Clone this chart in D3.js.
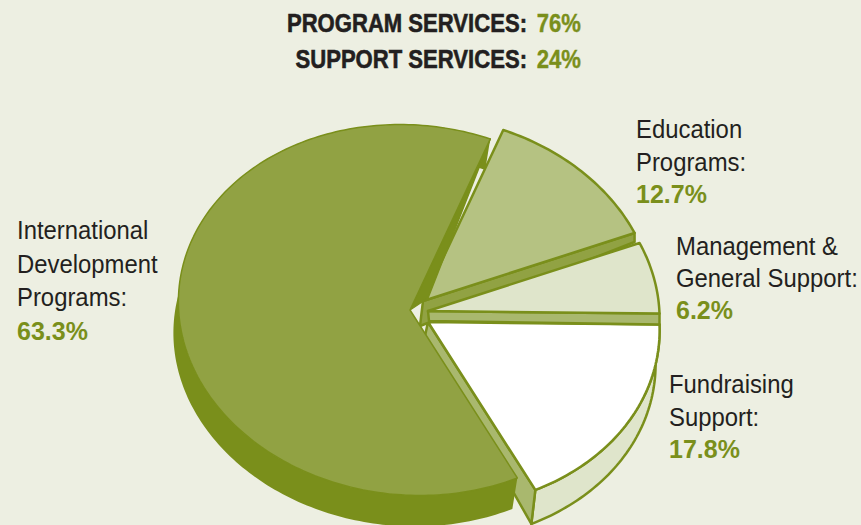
<!DOCTYPE html>
<html>
<head>
<meta charset="utf-8">
<script src="https://cdn.jsdelivr.net/npm/d3@7"></script>
<style>
  html, body { margin: 0; padding: 0; background: #edefe2; }
</style>
</head>
<body>
<div id="chart"></div>
<script>
// chart data
const categories = ["International Development Programs", "Education Programs", "Management & General Support", "Fundraising Support"];
const values = [63.3, 12.7, 6.2, 17.8];
const labelLines = [
  ["International", "Development", "Programs:"],
  ["Education", "Programs:"],
  ["Management &", "General Support:"],
  ["Fundraising", "Support:"]
];
const summaryNames = ["PROGRAM SERVICES:", "SUPPORT SERVICES:"];
const summaryValues = ["76%", "24%"];

const settings = {
  width: 861,
  height: 525,
  cx: 410,   // centre of the big slice
  cy: 310,
  rx: 232,   // tilted pie ellipse
  ry: 185,
  tilt: 5.5, // degrees the ellipse leans clockwise
  startDeg: 148,
  ink: "#231f20",
  green: "#7a8f1b",
  bg: "#edefe2"
};

// how each slice is pulled out of the pie and how its walls look
const sliceStyles = [
  { dx: 0, dy: 0, top: "#91a243", wall: "#7a8f1b", rim: "#7a8f1b", line: "none", shift: [-5, 31], inner: [18, -12] },
  { dx: 13, dy: -9, top: "#b5c282", wall: "#91a243", rim: "none", line: "#7a8f1b", shift: [0, 9], inner: [-3, 25] },
  { dx: 18, dy: 1, top: "#dfe5cb", wall: "#a9b86e", rim: "none", line: "#7a8f1b", shift: [0, 11], inner: [1, 10] },
  { dx: 18, dy: 12, top: "#ffffff", wall: "#a9b86e", rim: "#dfe5cb", line: "#7a8f1b", shift: [-4, 34], inner: [-3, 14] }
];
const labelPos = [
  { x: 17, y: 239, gap: 33.5 },
  { x: 636, y: 138, gap: 32.5 },
  { x: 676, y: 255, gap: 32 },
  { x: 669, y: 393, gap: 32.5 }
];

function project(a, s, conf) {
  const t = conf.tilt * Math.PI / 180;
  const ex = conf.rx * Math.sin(a);
  const ey = -conf.ry * Math.cos(a);
  return [
    conf.cx + s.dx + ex * Math.cos(t) - ey * Math.sin(t),
    conf.cy + s.dy + ex * Math.sin(t) + ey * Math.cos(t)
  ];
}
function arcPoints(a0, a1, s, conf) {
  const n = Math.max(2, Math.ceil(Math.abs(a1 - a0) / 0.02));
  return d3.range(n + 1).map(i => project(a0 + (a1 - a0) * i / n, s, conf));
}
function move(p, d) {
  return [p[0] + d[0], p[1] + d[1]];
}

function draw(conf) {
  const svg = d3.select("#chart").append("svg")
    .attr("width", conf.width)
    .attr("height", conf.height)
    .attr("viewBox", [0, 0, conf.width, conf.height])
    .style("display", "block");
  svg.append("rect").attr("width", conf.width).attr("height", conf.height).attr("fill", conf.bg);

  const rad = d => d * Math.PI / 180;
  const pie = d3.pie().sort(null).startAngle(rad(conf.startDeg)).endAngle(rad(conf.startDeg + 360));
  const slices = pie(values);
  const line = d3.line();

  function drawSlice(i) {
    const d = slices[i], s = sliceStyles[i];
    const apex = [conf.cx + s.dx, conf.cy + s.dy];
    const pts = arcPoints(d.startAngle, d.endAngle, s, conf);
    const end = pts[pts.length - 1];
    const g = svg.append("g").attr("class", "slice").attr("stroke-linejoin", "round");

    if (i === 0) {
      // dark body under the big slice, plus the inner wall on its open side
      g.append("path")
        .attr("d", line(pts.map(p => move(p, s.shift)).concat(pts.slice().reverse())) + "Z")
        .attr("fill", s.rim);
      g.append("path")
        .attr("d", line([apex, end, move(apex, s.inner)]) + "Z")
        .attr("fill", s.wall).attr("stroke", s.wall).attr("stroke-width", 1.5);
    } else if (i === 3) {
      // outer rim and the straight wall on the left side
      g.append("path")
        .attr("d", line(pts.map(p => move(p, s.shift)).concat(pts.slice().reverse())) + "Z")
        .attr("fill", s.rim).attr("stroke", s.line).attr("stroke-width", 2.5);
      g.append("path")
        .attr("d", line([apex, end, move(end, s.shift), move(apex, s.inner)]) + "Z")
        .attr("fill", s.wall).attr("stroke", s.line).attr("stroke-width", 2.5);
    } else {
      // wall along the lower straight edge
      g.append("path")
        .attr("d", line([apex, end, move(end, s.shift), move(apex, s.inner)]) + "Z")
        .attr("fill", s.wall).attr("stroke", s.line).attr("stroke-width", 2.5);
    }
    g.append("path")
      .attr("d", line([apex].concat(pts)) + "Z")
      .attr("fill", s.top)
      .attr("stroke", i === 0 ? conf.green : s.line)
      .attr("stroke-width", i === 0 ? 1.5 : 2.5);
  }
  // back to front
  [3, 1, 2, 0].forEach(drawSlice);

  // slice labels
  labelLines.forEach((lines, i) => {
    const p = labelPos[i];
    lines.forEach((txt, j) => {
      svg.append("text").attr("class", "label")
        .attr("transform", `translate(${p.x},${p.y + j * p.gap}) scale(0.955,1)`)
        .attr("font-family", "'Liberation Sans', sans-serif").attr("font-size", 25)
        .attr("fill", conf.ink).text(txt);
    });
    svg.append("text").attr("class", "label-value")
      .attr("x", p.x).attr("y", p.y + lines.length * p.gap)
      .attr("font-family", "'Liberation Sans', sans-serif").attr("font-size", 25)
      .attr("fill", conf.green).attr("font-weight", 700)
      .text(d3.format(".1f")(values[i]) + "%");
  });

  // summary at the top, squeezed to look condensed
  summaryNames.forEach((name, i) => {
    const y = 32 + i * 36;
    svg.append("text").attr("transform", `translate(527,${y}) scale(0.85,1)`).attr("text-anchor", "end")
      .attr("font-family", "'Liberation Sans', sans-serif").attr("font-weight", 700)
      .attr("font-size", 26).attr("fill", conf.ink)
      .attr("stroke", conf.ink).attr("stroke-width", 0.6).text(name);
    svg.append("text").attr("transform", `translate(581,${y}) scale(0.85,1)`).attr("text-anchor", "end")
      .attr("font-family", "'Liberation Sans', sans-serif").attr("font-weight", 700)
      .attr("font-size", 26).attr("fill", conf.green)
      .attr("stroke", conf.green).attr("stroke-width", 0.4).text(summaryValues[i]);
  });
}

draw(settings);
</script>
</body>
</html>
